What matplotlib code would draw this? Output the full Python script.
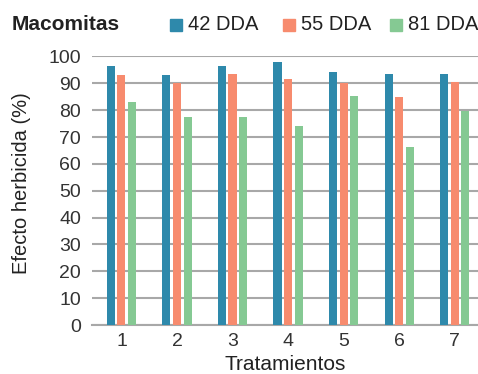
import matplotlib
matplotlib.use('Agg')
import matplotlib.pyplot as plt
import numpy as np
from matplotlib.patches import Rectangle

plt.rcParams['font.family'] = ['Liberation Sans', 'DejaVu Sans']

tratamientos = ['1', '2', '3', '4', '5', '6', '7']
dda42 = [96.4, 93.0, 96.4, 97.9, 94.2, 93.4, 93.4]
dda55 = [93.0, 90.0, 93.4, 91.5, 90.1, 84.9, 90.4]
dda81 = [83.0, 77.4, 77.4, 74.1, 85.2, 66.2, 79.6]

series = [('42 DDA', dda42, '#2E89AB'),
          ('55 DDA', dda55, '#F78B6E'),
          ('81 DDA', dda81, '#85C993')]

W, H = 478, 374
fig = plt.figure(figsize=(W / 100, H / 100), dpi=100)
ax = fig.add_axes([0.1925, 0.131, 0.8075, 0.718])

x = np.arange(1, len(tratamientos) + 1)
w = 0.145
step = 0.19
for i, (name, vals, col) in enumerate(series):
    ax.bar(x + (i - 1) * step, vals, width=w, color=col, zorder=3, label=name)

ax.set_ylim(0, 100)
ax.set_xlim(0.47, 7.42)
ax.set_yticks(range(0, 101, 10))
ax.set_xticks(x)
ax.set_xticklabels(tratamientos)
ax.yaxis.grid(True, color='#A8A8A8', linewidth=1.5, zorder=0)
ax.set_axisbelow(True)
for s in ['top', 'right', 'left']:
    ax.spines[s].set_visible(False)
ax.spines['bottom'].set_color('#A8A8A8')
ax.spines['bottom'].set_linewidth(1.5)
ax.tick_params(axis='both', length=0, labelsize=14, colors='#333333')
ax.tick_params(axis='y', pad=8)
ax.tick_params(axis='x', pad=6)

ax.set_xlabel('Tratamientos', fontsize=15, color='#222222', labelpad=3)
fig.text(22 / W, 0.51, 'Efecto herbicida (%)', rotation=90, fontsize=14.5,
         color='#222222', ha='center', va='center')

fig.text(12 / W, 1 - 25 / H, 'Macomitas', fontsize=15, fontweight='bold',
         color='#222222', ha='left', va='center')

# legend drawn by hand along the top row
legend_x = [170, 283, 390]
for (name, _, col), lx in zip(series, legend_x):
    fig.patches.append(Rectangle((lx / W, 1 - 31 / H), 12 / W, 12 / H,
                                 color=col, transform=fig.transFigure))
    fig.text((lx + 18) / W, 1 - 25 / H, name, fontsize=14.5,
             color='#222222', ha='left', va='center')

fig.savefig('out.png', dpi=100)
